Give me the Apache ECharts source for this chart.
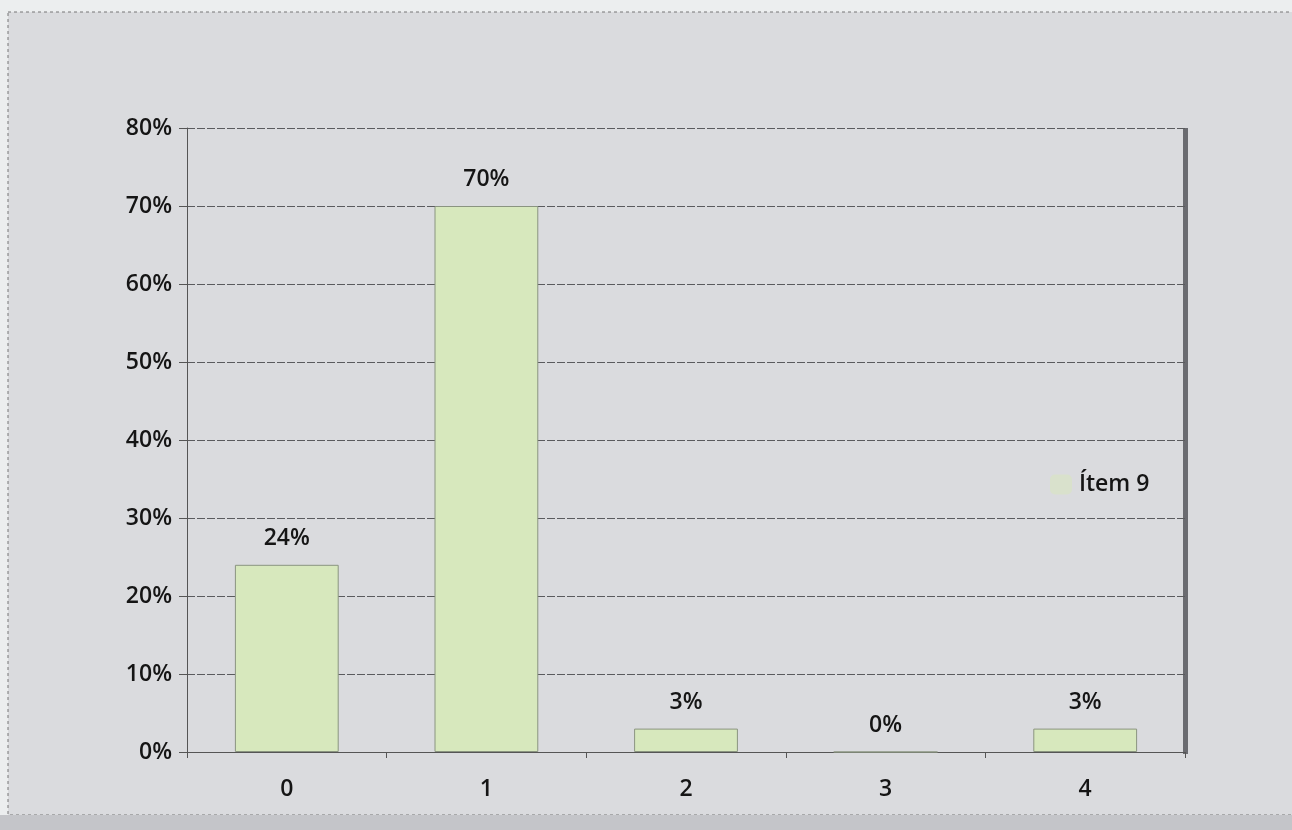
<!DOCTYPE html>
<html>
<head>
<meta charset="utf-8">
<script src="https://cdn.jsdelivr.net/npm/echarts@6/dist/echarts.min.js"></script>
<style>
  html, body { margin: 0; padding: 0; background: #eceeef; }
  #chart { width: 1292px; height: 830px; }
</style>
</head>
<body>
<div id="chart"></div>
<script>
// Response shares for item 9
const categories = ['0', '1', '2', '3', '4'];
const values = [24, 70, 3, 0, 3];
const seriesName = 'Ítem 9';
const yTicks = [0, 10, 20, 30, 40, 50, 60, 70, 80];

const chart = echarts.init(document.getElementById('chart'));
const font = '"Open Sans", Lato, sans-serif';
const txt = { fontSize: 23, fontWeight: 600, color: '#151515', fontFamily: font };

chart.setOption({
  backgroundColor: '#eceeef',
  textStyle: { fontFamily: font },
  graphic: [
    {
      type: 'rect', z: -10,
      shape: { x: 8, y: 12, width: 1290, height: 803 },
      style: { fill: '#dadbde', stroke: '#777', lineWidth: 1, lineDash: [3, 3] }
    },
    {
      type: 'rect', z: -9,
      shape: { x: 0, y: 815, width: 1292, height: 15 },
      style: { fill: '#c4c5c9' }
    },
    {
      type: 'rect', z: -1,
      shape: { x: 1183, y: 128, width: 5, height: 626 },
      style: { fill: '#6a6b70' }
    }
  ],
  legend: {
    data: [seriesName],
    left: 1045, top: 468,
    itemWidth: 22, itemHeight: 20, itemGap: 6,
    textStyle: Object.assign({}, txt, { padding: [0, 0, 0, 2] }),
    itemStyle: { color: '#d9e1cc', borderWidth: 0 }
  },
  grid: { left: 187, right: 107, top: 128, bottom: 78, containLabel: false },
  xAxis: {
    type: 'category',
    data: categories,
    axisLine: { lineStyle: { color: '#555', width: 1 } },
    axisTick: { show: true, length: 6, inside: false, lineStyle: { color: '#555' } },
    axisLabel: Object.assign({ margin: 26 }, txt),
    splitLine: { show: false }
  },
  yAxis: {
    type: 'value',
    min: 0, max: 80, interval: 10,
    axisLine: { show: true, lineStyle: { color: '#555', width: 1 } },
    axisTick: { show: true, length: 8, lineStyle: { color: '#555' } },
    axisLabel: Object.assign({
      margin: 15,
      formatter: v => yTicks.includes(v) ? v + '%' : ''
    }, txt),
    splitLine: { show: true, lineStyle: { color: '#5a5b5e', width: 1, type: [8, 2] } }
  },
  series: [{
    name: seriesName,
    type: 'bar',
    data: values,
    barWidth: '52%',
    itemStyle: { color: '#d7e8bd', borderColor: '#8a9480', borderWidth: 1 },
    label: Object.assign({
      show: true, position: 'top', distance: 15,
      formatter: p => p.value + '%'
    }, txt)
  }]
});
</script>
</body>
</html>
